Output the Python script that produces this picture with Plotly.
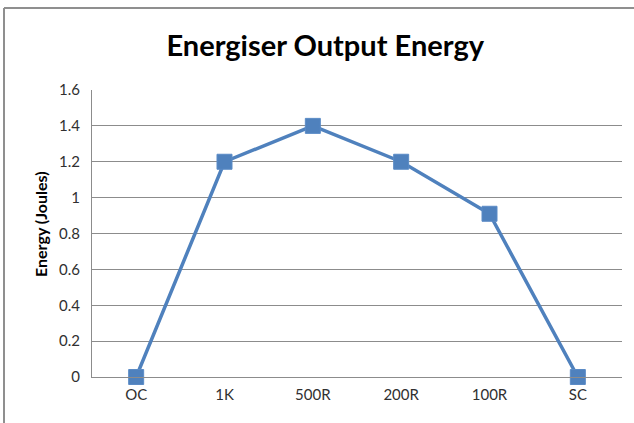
import plotly.graph_objects as go

categories = ["OC", "1K", "500R", "200R", "100R", "SC"]
energy = [0, 1.2, 1.4, 1.2, 0.91, 0]
y_ticks = [0, 0.2, 0.4, 0.6, 0.8, 1, 1.2, 1.4, 1.6]
y_tick_labels = ["0", "0.2", "0.4", "0.6", "0.8", "1", "1.2", "1.4", "1.6"]

W, H = 634, 423
L, R, T, B = 92, 12, 90, 46
pw, ph = W - L - R, H - T - B

def px_x(p):
    return (p - L) / pw

def px_y(p):
    return (H - B - p) / ph

fig = go.Figure()
fig.add_trace(go.Scatter(
    x=categories, y=energy, mode="lines+markers",
    line=dict(color="#4F81BD", width=3.5),
    marker=dict(symbol="square", size=15, color="#4F81BD",
                line=dict(color="#5B8BC6", width=1)),
    showlegend=False, cliponaxis=False,
))

font_family = "Lato, 'Open Sans', sans-serif"

fig.update_layout(
    width=W, height=H,
    margin=dict(l=L, r=R, t=T, b=B, autoexpand=False),
    paper_bgcolor="white", plot_bgcolor="white",
    font=dict(family=font_family, color="#303030", size=15),
    title=dict(text="<b>Energiser Output Energy</b>", x=0.513, xanchor="center",
               y=1 - 46 / H, yanchor="middle", yref="container",
               font=dict(size=29, color="#000000", family=font_family)),
    xaxis=dict(type="category", showgrid=False, showline=True, linecolor="#8c8c8c",
               linewidth=1, ticks="", tickfont=dict(size=15, color="#303030"),
               range=[-0.5, 5.5], automargin=False, ticklabelstandoff=4),
    yaxis=dict(range=[0, 1.6], tickvals=y_ticks, ticktext=y_tick_labels,
               showgrid=True, gridcolor="#8c8c8c", gridwidth=1,
               showline=True, linecolor="#8c8c8c", linewidth=1, ticks="",
               zeroline=False, tickfont=dict(size=15, color="#303030"),
               ticklabelstandoff=8, automargin=False),
    annotations=[dict(text="<b>Energy (Joules)</b>", textangle=-90,
                      x=px_x(40), y=px_y(224), xref="paper", yref="paper",
                      xanchor="center", yanchor="middle", showarrow=False,
                      font=dict(size=16, color="#000000"))],
    shapes=[
        dict(type="line", xref="paper", yref="paper",
             x0=px_x(4), x1=px_x(4), y0=px_y(8), y1=px_y(H + 5),
             line=dict(color="#8f8f8f", width=2)),
        dict(type="line", xref="paper", yref="paper",
             x0=px_x(4), x1=px_x(W + 5), y0=px_y(8), y1=px_y(8),
             line=dict(color="#8f8f8f", width=2)),
    ],
)

fig.write_html("out.html", config={"displayModeBar": False},
               post_script="document.body.style.margin='0';document.body.style.overflow='hidden';")
